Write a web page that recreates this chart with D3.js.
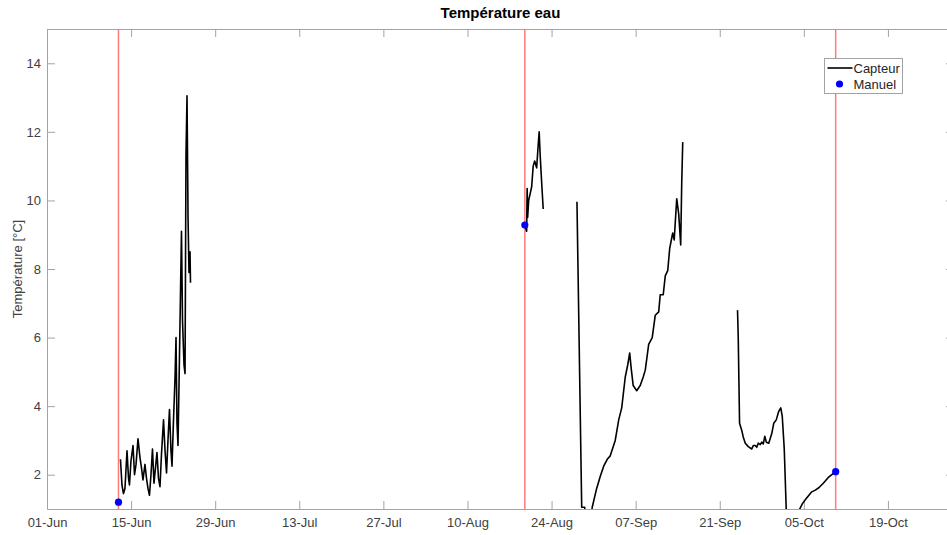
<!DOCTYPE html>
<html lang="fr">
<head>
<meta charset="UTF-8">
<title>Température eau</title>
<script src="https://d3js.org/d3.v7.min.js"></script>
<style>
  body { margin: 0; background: #fff; font-family: "Liberation Sans", Arial, sans-serif; }
  svg { display: block; }
</style>
</head>
<body>
<svg width="947" height="535"></svg>
<script>
// temps en jours depuis le 01-Jun (fractionnaires), températures en °C
const debut = Date.UTC(2021, 5, 1);

const capteur1Jour = [12.23, 12.48, 12.73, 12.98, 13.32, 13.57, 13.73, 13.98, 14.32, 14.57, 14.82, 15.15,
  15.48, 15.73, 15.98, 16.31, 16.56, 16.81, 17.06, 17.31, 17.56, 17.81, 18.06, 18.31, 18.56, 18.81,
  19.06, 19.40, 19.65, 19.90, 20.14, 20.39, 20.64, 20.81, 21.06, 21.31, 21.48, 21.64, 21.81, 22.06,
  22.39, 22.56, 22.81, 22.98, 23.14, 23.31, 23.48, 23.64, 23.81, 23.89];
const capteur1Temp = [2.45, 1.7, 1.45, 1.6, 2.7, 1.9, 1.7, 2.4, 2.85, 2.0, 2.3, 3.05,
  2.5, 2.2, 1.85, 2.3, 1.9, 1.6, 1.4, 2.0, 2.75, 1.75, 2.2, 2.65, 1.9, 1.65,
  2.6, 3.6, 2.7, 2.05, 3.0, 3.9, 2.7, 2.25, 3.6, 4.8, 6.0, 3.5, 2.85, 5.5,
  9.1, 6.5, 5.2, 4.95, 11.3, 13.05, 9.5, 7.9, 8.5, 7.6];

const capteur2Jour = [79.6, 79.85, 79.94, 80.02, 80.19, 80.44, 80.69, 80.94, 81.19, 81.35, 81.52, 81.77,
  81.94, 82.11, 82.36, 82.61];
const capteur2Temp = [9.25, 9.1, 10.35, 9.5, 10.0, 10.2, 10.4, 11.0, 11.15, 11.05, 10.95, 11.6,
  12.0, 11.3, 10.5, 9.75];

const capteur3Jour = [88.23, 89.02, 89.52, 89.68, 90.10, 90.52, 90.77, 91.51, 92.10, 92.68, 93.27, 93.77,
  94.60, 95.18, 95.68, 96.27, 96.68, 97.01, 97.26, 97.59, 98.18, 98.76, 99.26, 99.60, 100.17, 100.76,
  101.26, 101.84, 102.09, 102.59, 102.93, 103.34, 103.67, 104.17, 104.42, 104.84, 105.17, 105.50,
  105.67, 105.84];
const capteur3Temp = [9.96, 1.05, 1.05, 0.6, 0.4, 0.7, 1.05, 1.6, 1.95, 2.25, 2.45, 2.55,
  3.0, 3.6, 3.95, 4.85, 5.2, 5.55, 5.1, 4.6, 4.45, 4.6, 4.85, 5.05, 5.8, 6.0,
  6.65, 6.75, 7.25, 7.25, 7.8, 7.95, 8.6, 9.05, 8.85, 10.05, 9.6, 8.7,
  10.5, 11.7];

const capteur4Jour = [114.96, 115.08, 115.30, 115.66, 115.91, 116.25, 116.75, 117.33, 117.58, 117.91,
  118.16, 118.41, 118.75, 119.00, 119.25, 119.50, 119.75, 120.16, 120.66, 120.99, 121.41, 121.82,
  122.16, 122.41, 122.74, 123.07, 123.57, 124.24, 124.90, 125.32, 125.74, 126.24, 126.74, 127.32,
  127.91, 128.49, 129.24, 130.07, 130.66, 131.24];
const capteur4Temp = [6.8, 6.0, 3.5, 3.3, 3.1, 2.92, 2.82, 2.75, 2.85, 2.85,
  2.8, 2.92, 2.88, 2.95, 2.9, 3.12, 2.95, 2.92, 3.2, 3.5, 3.6, 3.85,
  3.95, 3.7, 2.75, 1.0, 0.4, 0.3, 0.6, 1.0, 1.15, 1.27, 1.38, 1.5,
  1.55, 1.62, 1.75, 1.92, 2.0, 2.09];

// mesures manuelles et lignes verticales des visites
const manuelJour = [11.9, 79.55, 131.3];
const manuelTemp = [1.2, 9.28, 2.09];
const visiteJour = [11.9, 79.55, 131.3];

const xTickJour = [0, 14, 28, 42, 56, 70, 84, 98, 112, 126, 140];
const yTicks = [2, 4, 6, 8, 10, 12, 14];

const jour = d => new Date(debut + d * 864e5);

const svg = d3.select("svg");
const margin = { top: 29, right: -7, bottom: 26, left: 47 };
const width = 947 - margin.right;   // l'axe déborde un peu à droite
const height = 535;

const x = d3.scaleTime()
  .domain([jour(0), jour(151)])
  .range([margin.left, width]);

const y = d3.scaleLinear()
  .domain([1, 15])
  .range([height - margin.bottom, margin.top]);

const axisColor = "#a3a3a3";
const textColor = "#404040";

svg.append("defs").append("clipPath").attr("id", "clip")
  .append("rect")
  .attr("x", margin.left).attr("y", margin.top)
  .attr("width", width - margin.left).attr("height", height - margin.bottom - margin.top);

// axes
const fmt = d3.utcFormat("%d-%b");
const xAxis = svg.append("g")
  .attr("transform", `translate(0,${height - margin.bottom})`)
  .call(d3.axisBottom(x).tickValues(xTickJour.map(jour)).tickFormat(fmt).tickSizeInner(-8).tickSizeOuter(0).tickPadding(6));
const xTop = svg.append("g")
  .attr("transform", `translate(0,${margin.top})`)
  .call(d3.axisTop(x).tickValues(xTickJour.map(jour)).tickFormat("").tickSizeInner(-8).tickSizeOuter(0));
const yAxis = svg.append("g")
  .attr("transform", `translate(${margin.left},0)`)
  .call(d3.axisLeft(y).tickValues(yTicks).tickSizeInner(-8).tickSizeOuter(0).tickPadding(6));
const yRight = svg.append("g")
  .attr("transform", `translate(${width},0)`)
  .call(d3.axisRight(y).tickValues(yTicks).tickFormat("").tickSizeInner(-8).tickSizeOuter(0));

[xAxis, xTop, yAxis, yRight].forEach(g => {
  g.selectAll("path, line").attr("stroke", axisColor);
  g.selectAll("text").attr("fill", textColor).style("font-size", "13px")
    .style("font-family", "'Liberation Sans', Arial, sans-serif");
});
xAxis.selectAll("text").attr("dy", "0.9em");

// lignes verticales rouges
svg.append("g").attr("clip-path", "url(#clip)")
  .selectAll("line").data(visiteJour).join("line")
  .attr("x1", d => x(jour(d))).attr("x2", d => x(jour(d)))
  .attr("y1", margin.top).attr("y2", height - margin.bottom)
  .attr("stroke", "#ff7a7a").attr("stroke-width", 1.5);

// série capteur
const line = d3.line().x(d => x(jour(d[0]))).y(d => y(d[1]));
const segments = [
  [capteur1Jour, capteur1Temp],
  [capteur2Jour, capteur2Temp],
  [capteur3Jour, capteur3Temp],
  [capteur4Jour, capteur4Temp]
].map(([j, t]) => j.map((d, i) => [d, t[i]]));

svg.append("g").attr("clip-path", "url(#clip)")
  .selectAll("path").data(segments).join("path")
  .attr("d", line)
  .attr("fill", "none")
  .attr("stroke", "#000")
  .attr("stroke-width", 1.6)
  .attr("stroke-linejoin", "round");

// mesures manuelles
svg.append("g")
  .selectAll("circle").data(manuelJour).join("circle")
  .attr("cx", d => x(jour(d)))
  .attr("cy", (d, i) => y(manuelTemp[i]))
  .attr("r", 3.6)
  .attr("fill", "#0000ff");

// titre et label
svg.append("text")
  .attr("x", (margin.left + width) / 2).attr("y", 18)
  .attr("text-anchor", "middle")
  .style("font-size", "15px").style("font-weight", "bold")
  .attr("fill", "#000")
  .text("Température eau");

svg.append("text")
  .attr("transform", `translate(22,${y(8)}) rotate(-90)`)
  .attr("text-anchor", "middle")
  .style("font-size", "13px")
  .attr("fill", textColor)
  .text("Température [°C]");

// légende
const leg = svg.append("g").attr("transform", "translate(824.5,58.5)");
leg.append("rect").attr("width", 78).attr("height", 35)
  .attr("fill", "#fff").attr("stroke", axisColor);
leg.append("line").attr("x1", 3).attr("x2", 28).attr("y1", 9.5).attr("y2", 9.5)
  .attr("stroke", "#000").attr("stroke-width", 1.6);
leg.append("circle").attr("cx", 15).attr("cy", 25.5).attr("r", 3.6).attr("fill", "#0000ff");
leg.selectAll("text").data(["Capteur", "Manuel"]).join("text")
  .attr("x", 29).attr("y", (d, i) => 14 + i * 16)
  .style("font-size", "13px")
  .attr("fill", "#262626")
  .text(d => d);
</script>
</body>
</html>
